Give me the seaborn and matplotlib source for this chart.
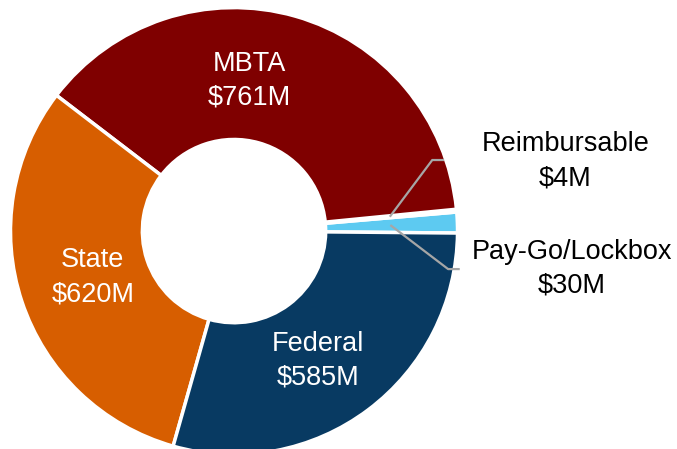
import numpy as np
import matplotlib
matplotlib.use('Agg')
import matplotlib.pyplot as plt
import seaborn as sns
sns.set_style('white')
plt.rcParams['font.family'] = ['Liberation Sans', 'DejaVu Sans']

# funding sources, counter-clockwise from 3 o'clock
sources = ['Pay-Go/Lockbox', 'Reimbursable', 'MBTA', 'State', 'Federal']
amounts = [30, 4, 761, 620, 585]
amount_labels = ['$30M', '$4M', '$761M', '$620M', '$585M']
colors = ['#5DCAF1', '#FFFFFF', '#7F0000', '#D75E00', '#083A62']

fig = plt.figure(figsize=(6.77, 4.49), dpi=100)
ax = fig.add_axes([0, 0, 1, 1])

wedges, _ = ax.pie(
    amounts,
    colors=colors,
    startangle=-0.5,
    counterclock=True,
    radius=1.0,
    wedgeprops=dict(width=0.59, edgecolor='white', linewidth=2.5),
)
ax.set_xlim(-1.047, 1.982)
ax.set_ylim(-0.975, 1.034)
ax.set_aspect('auto')
ax.axis('off')

# labels inside the ring (axes fraction positions)
inner_pos = {'MBTA': (0.369, 0.820), 'State': (0.137, 0.383), 'Federal': (0.470, 0.196)}
for name, amt in zip(sources, amount_labels):
    if name in inner_pos:
        x, y = inner_pos[name]
        ax.text(x, y, f'{name}\n{amt}', transform=ax.transAxes, color='white',
                fontsize=19.5, ha='center', va='center', linespacing=1.4)

# small slices get leader lines and outside labels
outer_layout = {
    'Reimbursable': dict(elbow=(0.887, 0.318), end=0.94, text=(0.835, 0.641)),
    'Pay-Go/Lockbox': dict(elbow=(0.958, -0.170), end=1.01, text=(0.845, 0.401)),
}
for w, name, amt in zip(wedges, sources, amount_labels):
    if name not in outer_layout:
        continue
    lay = outer_layout[name]
    mid = np.deg2rad((w.theta1 + w.theta2) / 2)
    r = 0.70
    x0, y0 = r * np.cos(mid), r * np.sin(mid)
    ex, ey = lay['elbow']
    ax.plot([x0, ex, lay['end']], [y0, ey, ey], color='#A6A6A6', lw=1.6,
            solid_capstyle='butt')
    tx, ty = lay['text']
    ax.text(tx, ty, f'{name}\n{amt}', transform=ax.transAxes, color='black',
            fontsize=19.5, ha='center', va='center', linespacing=1.4)

fig.savefig('out.png', dpi=100)
